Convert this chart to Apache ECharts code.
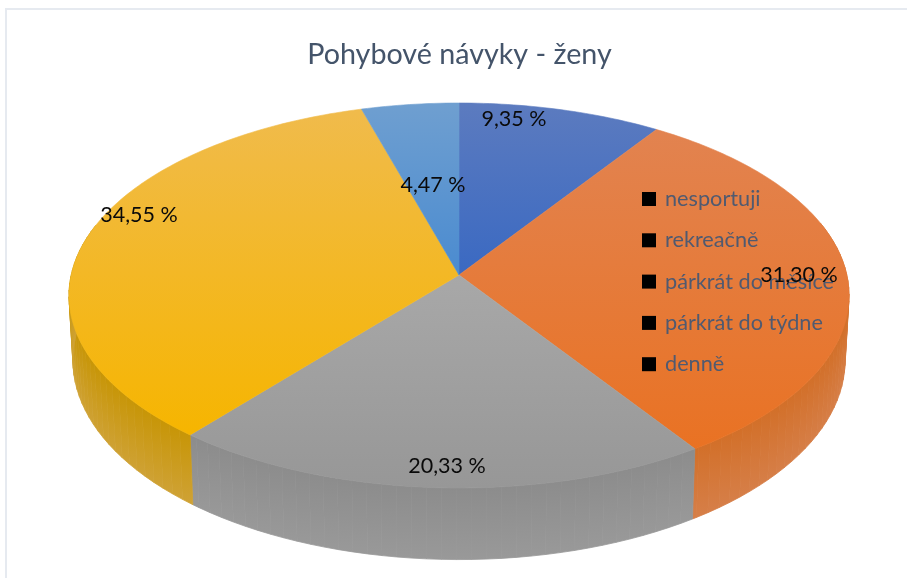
<!DOCTYPE html>
<html><head><meta charset="utf-8">
<style>html,body{margin:0;padding:0;background:#fff}#c{width:907px;height:578px}</style>
<script src="https://cdn.jsdelivr.net/npm/echarts@6/dist/echarts.min.js"></script>
</head><body><div id="c"></div>
<script>
const titleText = 'Pohybové návyky - ženy';
const categories = ['nesportuji', 'rekreačně', 'párkrát do měsíce', 'párkrát do týdne', 'denně'];
const values = [9.35, 31.30, 20.33, 34.55, 4.47];

// styling and layout, separate from the data
const topTop    = ['#5c7bbf', '#e28350', '#a8a8a8', '#f0bb4c', '#6f9fd0'];
const topBottom = ['#3a69c2', '#e97223', '#979797', '#f6b500', '#4a8bd0'];
const wallTop   = ['#2f5597', '#d26f28', '#8c8c8c', '#c79505', '#3f77b5'];
const wallBottom= ['#2f5597', '#d67f49', '#999999', '#cfa236', '#3f77b5'];
const labelOffsets = [[55, -156], [340, 0], [-12, 191], [-320, -60], [-26, -90]];
const geo = {cx: 459, cy: 275, a: 387.8, b: 190.3, k: 0.1064, depth: 64, shrink: 0.99, step: 2};

const total = values.reduce((s, v) => s + v, 0);
function project(deg) {
  const t = deg * Math.PI / 180, u = Math.sin(t), v = -Math.cos(t);
  const s = 1 / (1 - geo.k * v);
  return {x: geo.cx + geo.a * u * s, y: geo.cy + geo.b * v * s, s: s, v: v};
}
function lower(p) {
  return [geo.cx + (p.x - geo.cx) * geo.shrink, p.y + geo.depth * p.s];
}
function sliceAngles(i) {
  const before = values.slice(0, i).reduce((s, v) => s + v, 0);
  return [before / total * 360, (before + values[i]) / total * 360];
}
function vgrad(c0, c1) {
  return {type: 'linear', x: 0, y: 0, x2: 0, y2: 1, colorStops: [
    {offset: 0, color: c0}, {offset: 1, color: c1}]};
}
function renderSlice(i) {
  const [a0, a1] = sliceAngles(i);
  const children = [];
  // outer wall, built of thin vertical bands
  for (let d = a0; d < a1; d += geo.step) {
    const e = Math.min(d + geo.step, a1);
    const p = project(d), q = project(e);
    if (Math.max(p.v, q.v) < -0.25) continue;
    const fill = vgrad(wallTop[i], wallBottom[i]);
    children.push({
      type: 'polygon', z2: 1,
      shape: {points: [[p.x, p.y], [q.x, q.y], lower(q), lower(p)]},
      style: {fill: fill, stroke: fill, lineWidth: 0.8}
    });
  }
  // top face
  const pts = [[geo.cx, geo.cy]];
  for (let d = a0; ; d += 1) {
    const p = project(Math.min(d, a1));
    pts.push([p.x, p.y]);
    if (d >= a1) break;
  }
  const g = vgrad(topTop[i], topBottom[i]);
  children.push({
    type: 'polygon', z2: 3,
    shape: {points: pts},
    style: {fill: g, stroke: g, lineWidth: 0.6}
  });
  return {type: 'group', children: children};
}
const fmt = v => v.toFixed(2).replace('.', ',') + ' %';

const series = categories.map((name, i) => ({
  type: 'custom', name: name, coordinateSystem: 'none', silent: true, z: 2,
  data: [[values[i]]],
  renderItem: () => renderSlice(i)
}));
series.push({
  type: 'custom', name: 'popisky', coordinateSystem: 'none', silent: true, z: 6,
  data: values.map(v => [v]),
  renderItem: (params) => {
    const i = params.dataIndex;
    return {
      type: 'text',
      style: {
        x: geo.cx + labelOffsets[i][0], y: geo.cy + labelOffsets[i][1],
        text: fmt(values[i]), align: 'center', verticalAlign: 'middle',
        fill: '#0a0a0a', font: '21.5px Lato, "Open Sans", sans-serif'
      }
    };
  }
});

const chart = echarts.init(document.getElementById('c'), null, {renderer: 'canvas'});
chart.setOption({
  animation: false,
  backgroundColor: '#ffffff',
  title: {
    text: titleText, left: 454.5, textAlign: 'center', top: 35,
    textStyle: {fontFamily: 'Lato', fontWeight: 'normal', fontSize: 28.7, color: '#44546a'}
  },
  legend: {
    data: categories, orient: 'vertical', left: 642, top: 188, z: 4, padding: 0,
    selectedMode: false, icon: 'rect', itemWidth: 14, itemHeight: 14, itemGap: 19.3,
    itemStyle: {color: '#000000', borderWidth: 0},
    textStyle: {fontFamily: 'Lato', fontSize: 21.7, color: '#505a70', lineHeight: 20, padding: [0, 0, 0, 4]}
  },
  graphic: [{
    type: 'polyline', silent: true,
    shape: {points: [[6, 578], [6, 9], [907, 9]]},
    style: {stroke: '#e6eaf0', lineWidth: 2, fill: null}
  }],
  series: series
});
</script></body></html>
